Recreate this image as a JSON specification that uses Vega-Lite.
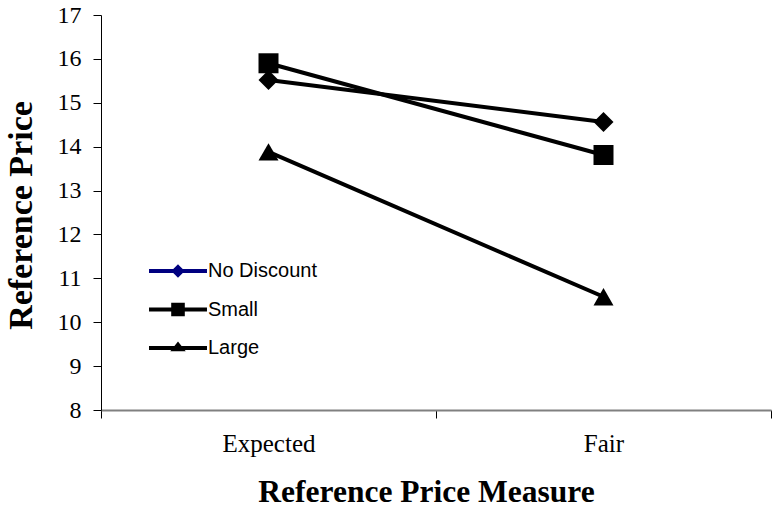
{
  "$schema": "https://vega.github.io/schema/vega-lite/v6.json",
  "autosize": {"type": "none"},
  "width": 670,
  "height": 395,
  "padding": {"left": 101, "top": 15, "right": 4, "bottom": 100},
  "background": "white",
  "config": {
    "font": "Liberation Serif",
    "view": {"stroke": null},
    "axis": {"grid": false, "labelFont": "Liberation Serif", "labelFontSize": 24, "labelColor": "black", "titleFont": "Liberation Serif", "titleFontSize": 30, "titleFontWeight": "bold", "titleColor": "black", "tickColor": "black", "domainColor": "black"}
  },
  "data": {
    "values": [
      {"measure": "Expected", "group": "No Discount", "price": 15.52},
      {"measure": "Fair", "group": "No Discount", "price": 14.56},
      {"measure": "Expected", "group": "Small", "price": 15.9},
      {"measure": "Fair", "group": "Small", "price": 13.81},
      {"measure": "Expected", "group": "Large", "price": 13.88},
      {"measure": "Fair", "group": "Large", "price": 10.58}
    ]
  },
  "encoding": {
    "x": {
      "field": "measure", "type": "nominal", "sort": ["Expected", "Fair"],
      "scale": {"paddingInner": 0, "paddingOuter": 0},
      "axis": {"title": "Reference Price Measure", "labelAngle": 0, "labelFont": "Liberation Serif", "labelFontSize": 25, "labelBaseline": "alphabetic", "labelPadding": 33, "tickBand": "extent", "tickSize": 8, "domainColor": "#808080", "domainWidth": 2, "titleFont": "Liberation Serif", "titleFontSize": 31.5, "titleX": 325, "titleY": 82, "titleBaseline": "middle"}
    },
    "y": {
      "field": "price", "type": "quantitative",
      "scale": {"domain": [8, 17], "nice": false, "zero": false},
      "axis": {"title": "Reference Price", "values": [8, 9, 10, 11, 12, 13, 14, 15, 16, 17], "labelFont": "Times New Roman", "labelFontSize": 24, "tickSize": 8, "labelPadding": 12, "titleFont": "Liberation Serif", "titleFontSize": 34, "titleX": -80, "titleY": 200, "titleAngle": -90, "titleAlign": "center", "titleBaseline": "middle"}
    }
  },
  "layer": [
    {
      "mark": {"type": "line", "color": "black", "strokeWidth": 4},
      "encoding": {"detail": {"field": "group"}}
    },
    {
      "mark": {"type": "point", "filled": true, "color": "black", "opacity": 1, "size": 400},
      "encoding": {
        "shape": {"field": "group", "type": "nominal", "scale": {"domain": ["No Discount", "Small", "Large"], "range": ["diamond", "square", "triangle-up"]}, "legend": null}
      }
    },
    {
      "mark": {"type": "point", "filled": true, "fill": "black", "opacity": 0, "strokeWidth": 4},
      "encoding": {
        "shape": {"field": "group", "type": "nominal", "scale": {"domain": ["No Discount", "Small", "Large"], "range": [
          "M-4.83,0L4.83,0M0,-0.65L0.65,0L0,0.65L-0.65,0Z",
          "M-4.83,0L4.83,0M-0.8,-0.8L0.8,-0.8L0.8,0.8L-0.8,0.8Z",
          "M-4.83,0L4.83,0M0,-0.55L0.6,0.2L-0.6,0.2Z"
        ]}, "legend": {"title": null, "orient": "none", "legendX": 67, "legendY": 246, "symbolSize": 144, "symbolStrokeWidth": 4, "symbolFillColor": "black", "symbolOpacity": 1, "labelFont": "Liberation Sans", "labelFontSize": 20, "labelColor": "black", "labelOffset": 20, "rowPadding": 13.5}},
        "stroke": {"field": "group", "type": "nominal", "scale": {"domain": ["No Discount", "Small", "Large"], "range": ["#000080", "black", "black"]}, "legend": {"title": null, "orient": "none", "legendX": 67, "legendY": 246, "symbolSize": 144, "symbolStrokeWidth": 4, "symbolFillColor": "black", "symbolOpacity": 1, "labelFont": "Liberation Sans", "labelFontSize": 20, "labelColor": "black", "labelOffset": 20, "rowPadding": 13.5}}
      }
    }
  ],
  "resolve": {"scale": {"shape": "independent", "stroke": "independent"}}
}
